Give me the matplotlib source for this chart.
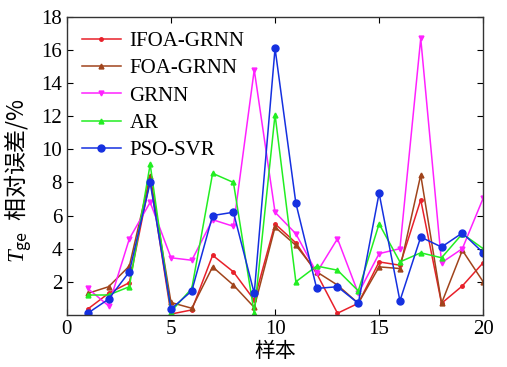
import numpy as np
import matplotlib.pyplot as plt

plt.rcParams['font.family'] = ['Liberation Serif', 'Noto Sans CJK SC']
plt.rcParams['mathtext.fontset'] = 'custom'
plt.rcParams['mathtext.rm'] = 'Noto Sans CJK SC'
plt.rcParams['mathtext.it'] = 'Liberation Serif:italic'

muestras = np.arange(1, 21)

ifoa_grnn = [0.35, 1.3, 1.95, 8.2, 0.05, 0.3, 3.6, 2.6, 0.9, 5.5,
             4.35, 2.5, 0.1, 0.7, 3.2, 3.0, 6.95, 0.7, 1.75, 3.15]
foa_grnn = [1.3, 1.7, 2.95, 8.4, 0.75, 0.4, 2.9, 1.8, 0.45, 5.3,
            4.2, 2.6, 1.8, 0.7, 2.9, 2.8, 8.45, 0.7, 3.9, 2.0]
grnn = [1.6, 0.55, 4.6, 6.8, 3.45, 3.3, 5.75, 5.35, 14.8, 6.2,
        4.9, 2.55, 4.6, 1.3, 3.7, 4.0, 16.7, 3.15, 4.0, 7.05]
ar = [1.2, 1.2, 1.7, 9.1, 0.2, 1.6, 8.55, 8.0, 0.1, 12.1,
      2.0, 2.95, 2.7, 1.45, 5.5, 3.2, 3.75, 3.45, 4.9, 4.0]
pso_svr = [0.1, 0.95, 2.6, 8.0, 0.35, 1.45, 6.0, 6.2, 1.3, 16.1,
           6.75, 1.6, 1.7, 0.7, 7.35, 0.85, 4.7, 4.1, 4.95, 3.75]

leyendas = ['IFOA-GRNN', 'FOA-GRNN', 'GRNN', 'AR', 'PSO-SVR']
colores = ['#e8202a', '#a0441c', '#ff22ff', '#22ee22', '#1530e0']
marcadores = ['.', '^', 'v', '^', 'o']
tamanos = [5, 3.5, 3.5, 3.5, 5]

fig = plt.figure(figsize=(5.07, 3.67), dpi=100)
ax = fig.add_axes([0.132, 0.142, 0.821, 0.812])

series = [ifoa_grnn, foa_grnn, grnn, ar, pso_svr]
for datos, nombre, c, m, s in zip(series, leyendas, colores, marcadores, tamanos):
    ax.plot(muestras, datos, color=c, marker=m, markersize=s, linewidth=1.1, label=nombre)

ax.set_xlim(0, 20)
ax.set_ylim(0, 18)
ax.set_xticks([0, 5, 10, 15, 20])
ax.set_yticks([2, 4, 6, 8, 10, 12, 14, 16, 18])
ax.tick_params(direction='in', top=True, right=True, labelsize=15, length=4)
for sp in ax.spines.values():
    sp.set_linewidth(1.0)
    sp.set_color('#333333')

ax.set_xlabel('样本', fontsize=15, labelpad=3)
ax.set_ylabel(r'$T_{\mathrm{ge}}\ \ \mathrm{相对误差/\%}$', fontsize=16.5)
ax.yaxis.set_label_coords(-0.078, 0.45)

ax.legend(loc='upper left', fontsize=15, frameon=False, handlelength=1.9,
          labelspacing=0.37, borderaxespad=0.3, handletextpad=0.4)

fig.savefig('out.png', dpi=100)
